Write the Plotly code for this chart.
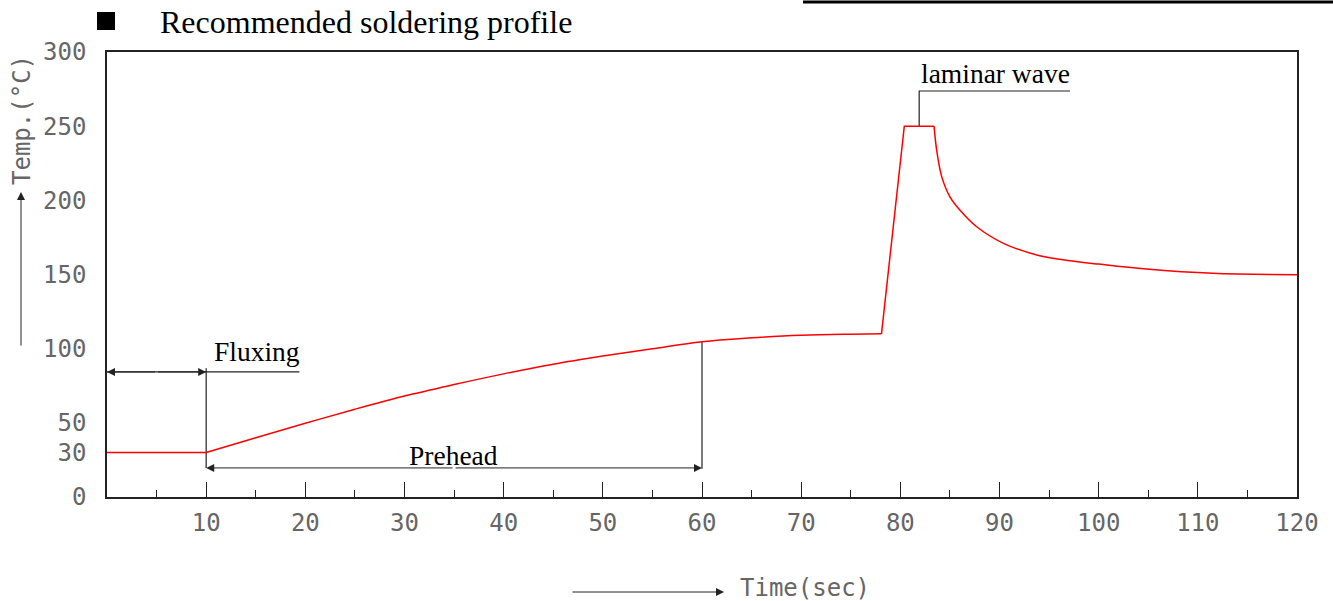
import plotly.graph_objects as go

# ---- data ----
time_s = [0, 10, 15, 20, 25, 30, 35, 40, 45, 50, 55, 60, 65, 70, 75, 78.1,
          80.4, 83.4, 83.66, 84.17, 85.0, 86.0, 87.7, 90.4, 93.75, 97.1, 100,
          104.8, 111.5, 120]
temp_c = [30, 30, 40, 49.7, 59.2, 68.1, 75.8, 83, 89.5, 95, 100, 104.7, 107.3,
          109.1, 109.8, 110, 250, 250, 234, 216, 202.4, 193.5, 182.2, 171,
          163.2, 159.3, 157, 153.7, 150.8, 149.9]

x_ticks = [10, 20, 30, 40, 50, 60, 70, 80, 90, 100, 110, 120]
y_ticks = [0, 30, 50, 100, 150, 200, 250, 300]

flux_span = [0, 10]
flux_level = 84.3
flux_ext_end = 19.4
preheat_span = [10, 60]
preheat_level = 19.6
preheat_top = 104.7
flux_top = 86.8
laminar_x = 81.9
laminar_peak = 250
laminar_level = 273.7
laminar_ext_end = 97.1

W, H = 1333, 601
L, R, T, B = 107, 36, 52, 104
PW, PH = W - L - R, H - T - B


def px(xp):
    return (xp - L) / PW


def py(yp):
    return (H - B - yp) / PH


mono = "DejaVu Sans Mono"
serif = "Liberation Serif"
tick_col = "#666666"
line_col = "#222222"

fig = go.Figure()

# dimension lines
dim = dict(mode="lines", line=dict(color=line_col, width=1.2), hoverinfo="skip")
fig.add_trace(go.Scatter(x=[flux_span[0], flux_ext_end], y=[flux_level, flux_level], **dim))
fig.add_trace(go.Scatter(x=[preheat_span[0], preheat_span[0]], y=[preheat_level, flux_top], **dim))
fig.add_trace(go.Scatter(x=[preheat_span[1], preheat_span[1]], y=[preheat_level - 0.5, preheat_top], **dim))
fig.add_trace(go.Scatter(x=[laminar_x, laminar_x, laminar_ext_end],
                         y=[laminar_peak, laminar_level, laminar_level], **dim))

# profile curve: straight pieces and smooth pieces
i_pre0 = time_s.index(10)
i_pre1 = time_s.index(78.1)
i_peak1 = time_s.index(83.4)
pieces = [
    (0, i_pre0, "linear"),
    (i_pre0, i_pre1, "spline"),
    (i_pre1, i_peak1, "linear"),
    (i_peak1, len(time_s) - 1, "spline"),
]
for a, b, shape in pieces:
    ln = dict(color="#ff0000", width=1.5, shape=shape)
    if shape == "spline":
        ln["smoothing"] = 1.0
    fig.add_trace(go.Scatter(x=time_s[a:b + 1], y=temp_c[a:b + 1], mode="lines",
                             line=ln, hoverinfo="skip"))

# double arrows
def arrow(xh, yh, xt, yt):
    fig.add_annotation(x=xh, y=yh, ax=xt, ay=yt, xref="x", yref="y", axref="x", ayref="y",
                       text="", showarrow=True, arrowhead=2, arrowsize=1.6, arrowwidth=1,
                       arrowcolor=line_col)

fmid = (flux_span[0] + flux_span[1]) / 2
arrow(flux_span[0], flux_level, fmid, flux_level)
arrow(flux_span[1], flux_level, fmid, flux_level)
pmid = (preheat_span[0] + preheat_span[1]) / 2
arrow(preheat_span[0], preheat_level, pmid, preheat_level)
arrow(preheat_span[1], preheat_level, pmid, preheat_level)

# labels
lab_font = dict(family=serif, size=27.5, color="black")
fig.add_annotation(x=10.6, y=97.8, xref="x", yref="y", text="Fluxing", showarrow=False,
                   xanchor="left", yanchor="middle", font=lab_font)
fig.add_annotation(x=34.9, y=28.3, xref="x", yref="y", text="Prehead", showarrow=False,
                   xanchor="center", yanchor="middle", font=lab_font)
fig.add_annotation(x=89.6, y=285.8, xref="x", yref="y", text="laminar wave", showarrow=False,
                   xanchor="center", yanchor="middle", font=lab_font)

# title
fig.add_shape(type="rect", xref="paper", yref="paper", x0=px(97), x1=px(115), y0=py(30), y1=py(12),
              fillcolor="black", line=dict(width=0))
fig.add_annotation(x=px(158), y=py(22), xref="paper", yref="paper",
                   text="Recommended soldering profile", showarrow=False,
                   xanchor="left", yanchor="middle", font=dict(family=serif, size=32, color="black"))
fig.add_shape(type="line", xref="paper", yref="paper", x0=px(803), x1=px(1333), y0=py(2), y1=py(2),
              line=dict(color="black", width=3))

# axis titles
fig.add_annotation(x=px(22), y=py(120), xref="paper", yref="paper", text="Temp.(°C)",
                   textangle=-90, showarrow=False, xanchor="center", yanchor="middle",
                   font=dict(family=mono, size=24, color=tick_col))
fig.add_annotation(x=px(21), y=py(192), xref="paper", yref="paper", ax=0, ay=155,
                   axref="pixel", ayref="pixel", text="", showarrow=True, arrowhead=2,
                   arrowsize=1.6, arrowwidth=1, arrowcolor=line_col)
fig.add_annotation(x=px(805), y=py(588), xref="paper", yref="paper", text="Time(sec)",
                   showarrow=False, xanchor="center", yanchor="middle",
                   font=dict(family=mono, size=24, color=tick_col))
fig.add_annotation(x=px(724), y=py(592), xref="paper", yref="paper", ax=-153, ay=0,
                   axref="pixel", ayref="pixel", text="", showarrow=True, arrowhead=2,
                   arrowsize=1.6, arrowwidth=1, arrowcolor=line_col)

fig.update_layout(
    width=W, height=H,
    margin=dict(l=L, r=R, t=T, b=B),
    paper_bgcolor="white", plot_bgcolor="white",
    showlegend=False,
    xaxis=dict(range=[0, 120], tickmode="array", tickvals=x_ticks,
               ticks="inside", ticklen=15, tickwidth=1, tickcolor=line_col,
               minor=dict(dtick=5, tick0=0, ticks="inside", ticklen=7, tickwidth=1, tickcolor=line_col),
               showline=True, linecolor=line_col, linewidth=1.5, mirror=True,
               showgrid=False, zeroline=False, ticklabelstandoff=3,
               tickfont=dict(family=mono, size=24, color=tick_col)),
    yaxis=dict(range=[0, 300], tickmode="array", tickvals=y_ticks, ticks="",
               showline=True, linecolor=line_col, linewidth=1.5, mirror=True,
               showgrid=False, zeroline=False, ticklabelstandoff=14,
               tickfont=dict(family=mono, size=24, color=tick_col)),
    yaxis2=dict(range=[0, 300], overlaying="y", side="left", tickmode="array",
                tickvals=list(range(20, 300, 20)), ticks="inside", ticklen=15, tickwidth=1,
                tickcolor=line_col, showticklabels=False, showgrid=False, zeroline=False,
                showline=False),
    yaxis3=dict(range=[0, 300], overlaying="y", side="left", tickmode="array",
                tickvals=list(range(10, 300, 20)), ticks="inside", ticklen=7, tickwidth=1,
                tickcolor=line_col, showticklabels=False, showgrid=False, zeroline=False,
                showline=False),
    hovermode=False,
)

fig.write_html("out.html", config={"displayModeBar": False},
               post_script="document.body.style.margin='0';document.body.style.overflow='hidden';")
